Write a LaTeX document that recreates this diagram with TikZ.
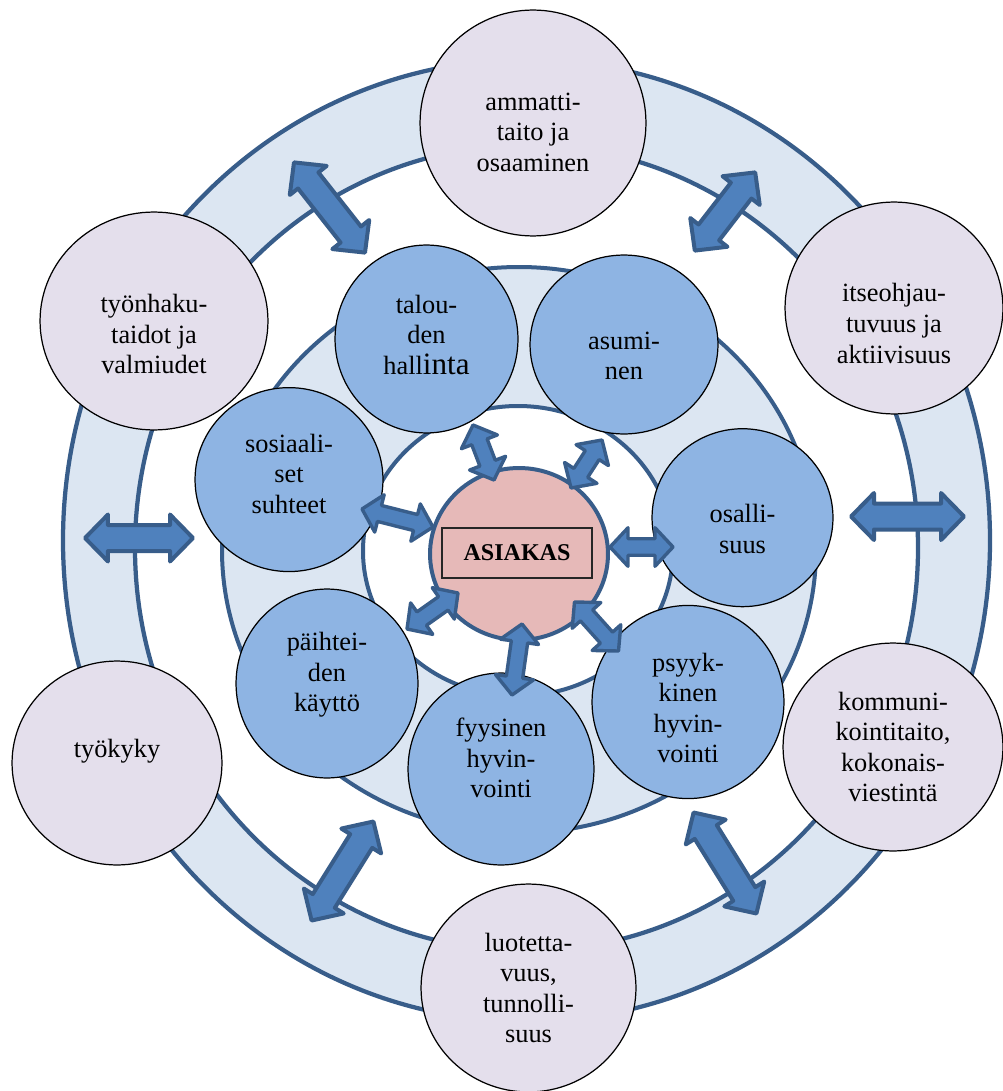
\documentclass[tikz,border=0pt]{standalone}
\usepackage{fontspec}
\setmainfont{Liberation Serif}
\usetikzlibrary{shapes.geometric,calc}

\definecolor{ringline}{HTML}{385D8A}
\definecolor{ringfill}{HTML}{DCE6F2}
\definecolor{lavender}{HTML}{E4DFEC}
\definecolor{bubblue}{HTML}{8EB4E3}
\definecolor{corepink}{HTML}{E6B9B8}
\definecolor{arrowblue}{HTML}{4F81BD}

\newcommand\bubfont{\fontsize{15}{17.4}\selectfont}

\tikzset{
  bub/.style n args={2}{ellipse, draw=black, line width=0.7pt, inner sep=0pt,
    minimum width=#1*0.04cm, minimum height=#2*0.04cm},
  outerbub/.style 2 args={bub={#1}{#2}, fill=lavender},
  innerbub/.style 2 args={bub={#1}{#2}, fill=bubblue},
  txt/.style={align=center, font=\bubfont, inner sep=0pt},
  % block double arrow: shaft half width, head half width, head length
  dblarrow/.style n args={3}{draw=ringline, fill=arrowblue, line join=round,
    to path={
      -- ($(\tikztostart)!#3!(\tikztotarget)!#2!90:(\tikztotarget)$)
      -- ($(\tikztostart)!#3!(\tikztotarget)!#1!90:(\tikztotarget)$)
      -- ($(\tikztotarget)!#3!(\tikztostart)!#1!-90:(\tikztostart)$)
      -- ($(\tikztotarget)!#3!(\tikztostart)!#2!-90:(\tikztostart)$)
      -- (\tikztotarget)
      -- ($(\tikztotarget)!#3!(\tikztostart)!#2!90:(\tikztostart)$)
      -- ($(\tikztotarget)!#3!(\tikztostart)!#1!90:(\tikztostart)$)
      -- ($(\tikztostart)!#3!(\tikztotarget)!#1!-90:(\tikztotarget)$)
      -- ($(\tikztostart)!#3!(\tikztotarget)!#2!-90:(\tikztotarget)$)
      -- cycle}},
  outerarrow/.style={dblarrow={0.26cm}{0.47cm}{0.46cm}, line width=0.08cm},
  innerarrow/.style={dblarrow={0.165cm}{0.385cm}{0.36cm}, line width=0.068cm},
}

\begin{document}
\begin{tikzpicture}[x=0.02cm, y=-0.02cm]
    \useasboundingbox (0,0) rectangle (1003,1091);

    % Outer ring
    \fill[ringfill, even odd rule] (526.5,540.5) ellipse [x radius=463.5, y radius=481]
        (526.5,548) ellipse [x radius=391.5, y radius=403];
    \draw[ringline, line width=0.085cm] (526.5,540.5) ellipse [x radius=463.5, y radius=481];
    \draw[ringline, line width=0.085cm] (526.5,548) ellipse [x radius=391.5, y radius=403];

    % Middle ring and the client in the centre
    \draw[ringline, line width=0.08cm, fill=ringfill] (519,550) ellipse [x radius=297, y radius=283];
    \draw[ringline, line width=0.08cm, fill=white] (518,551) ellipse [x radius=155, y radius=145];
    \node[ellipse, draw=ringline, line width=0.08cm, fill=corepink, inner sep=0pt,
        minimum width=3.56cm, minimum height=3.44cm] (core) at (519,554) {};
    \node[draw=black!85, line width=0.03cm, minimum width=3cm, minimum height=1cm,
        font=\fontsize{13.7}{16}\selectfont\bfseries] (asiakas) at (517,553) {ASIAKAS};

    % Outer bubbles
    \node[outerbub={113}{113}, label={[txt, yshift=-0.18cm]center:ammatti-\\taito ja\\osaaminen}] (ammatti) at (533,123) {};
    \node[outerbub={109}{106}, label={[txt, yshift=-0.31cm]center:itseohjau-\\tuvuus ja\\aktiivisuus}] (itseohjaus) at (894,308) {};
    \node[outerbub={114}{109}, label={[txt, yshift=-0.26cm]center:työnhaku-\\taidot ja\\valmiudet}] (tyonhaku) at (154,321) {};
    \node[outerbub={105}{102}, label={[txt, yshift=0.24cm]center:työkyky}] (tyokyky) at (117,763) {};
    \node[outerbub={110}{104}, label={[txt]center:kommuni-\\kointitaito,\\kokonais-\\viestintä}] (kommunikointi) at (893,747) {};
    \node[outerbub={107.5}{104}, label={[txt]center:luotetta-\\vuus,\\tunnolli-\\suus}] (luotettavuus) at (528.5,988) {};

    % Inner bubbles
    \node[innerbub={91.5}{94}, label={[txt, yshift=0.08cm]center:talou-\\den\\hall{\fontsize{17.7}{17.4}\selectfont inta}}] (talous) at (426.5,339) {};
    \node[innerbub={94}{89.5}, label={[txt, yshift=-0.23cm]center:asumi-\\nen}] (asuminen) at (624,344.5) {};
    \node[innerbub={94}{92}, label={[txt, yshift=0.12cm]center:sosiaali-\\set\\suhteet}] (sosiaali) at (289,479.6) {};
    \node[innerbub={90.5}{89}, label={[txt, yshift=-0.23cm]center:osalli-\\suus}] (osallisuus) at (742.5,517.7) {};
    \node[innerbub={91}{94.5}, label={[txt, yshift=0.17cm]center:päihtei-\\den\\käyttö}] (paihteet) at (327,683.5) {};
    \node[innerbub={93}{96}, label={[txt, yshift=0.22cm]center:fyysinen\\hyvin-\\vointi}] (fyysinen) at (501,769) {};
    \node[innerbub={96}{96.6}, label={[txt, yshift=-0.12cm]center:psyyk-\\kinen\\hyvin-\\vointi}] (psyykkinen) at (688,702) {};

    % Arrows across the outer ring
    \foreach \ax/\ay/\bx/\by [count=\i] in {294/162.4/365/252.6, 755.2/172.4/694.8/250.6, 85/538/193/538,
        851/516.5/964/516.5, 373.4/821.5/311.6/920.5, 693.6/812.5/756.4/913.5} {
        \coordinate (out\i a) at (\ax,\ay);
        \coordinate (out\i b) at (\bx,\by);
        \draw[outerarrow] (out\i a) to (out\i b);
    }

    % Arrows from the client to the inner bubbles
    \foreach \ax/\ay/\bx/\by [count=\i] in {494/480/473/425, 571/488/602/440, 433/527/362/509,
        610/547/673/547, 574.5/602/618.5/651, 522/624/512/695, 458/593/407/629} {
        \coordinate (in\i a) at (\ax,\ay);
        \coordinate (in\i b) at (\bx,\by);
        \draw[innerarrow] (in\i a) to (in\i b);
    }
\end{tikzpicture}
\end{document}
